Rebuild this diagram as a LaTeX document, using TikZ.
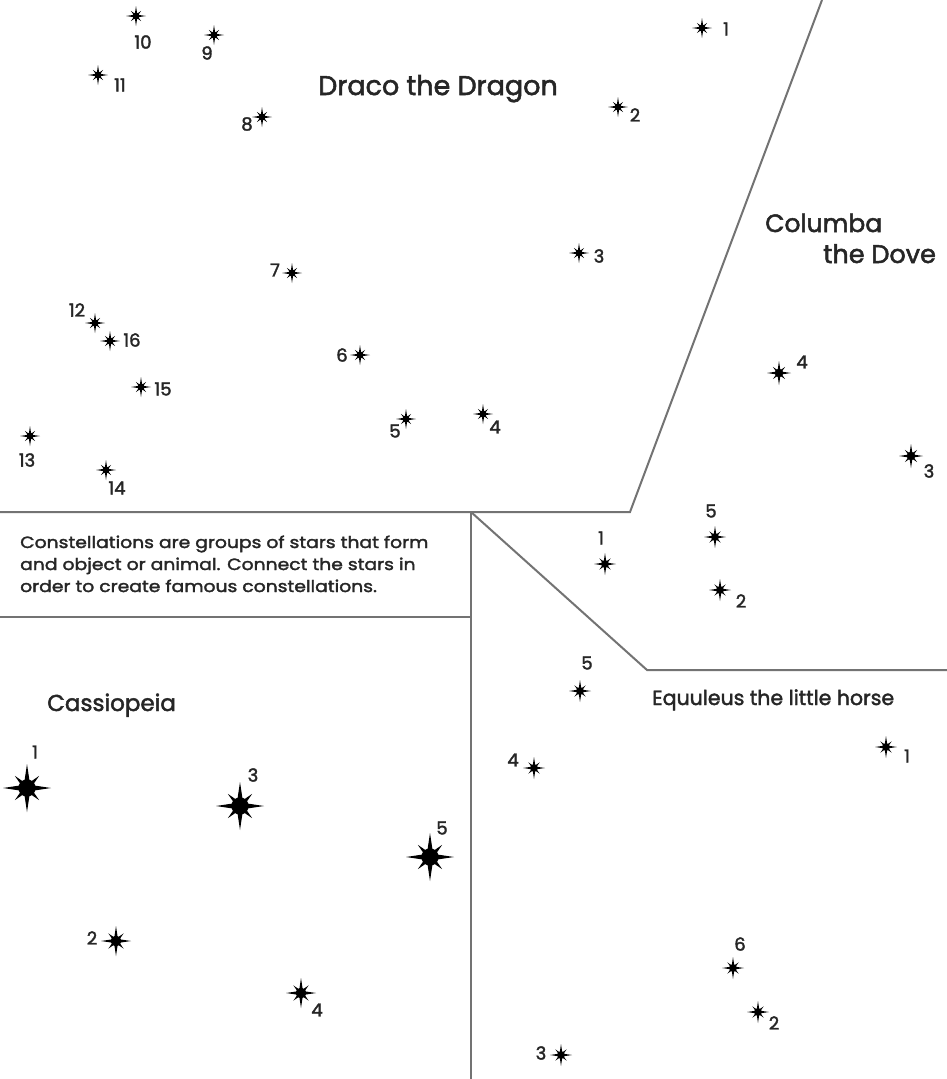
\documentclass[tikz,border=0pt]{standalone}
\usepackage{fontspec}
\setmainfont{Poppins}[FakeBold=2]
\newfontfamily\parafont{Poppins}[FakeBold=2,FakeStretch=1.15]
\begin{document}
\begin{tikzpicture}[x=1pt,y=-1pt,
  divider/.style={draw=black!55,line width=2pt,line join=miter},
  lbl/.style={text=black!85,font=\fontsize{18}{18}\selectfont,inner sep=0pt,anchor=center},
  title/.style={text=black!85,inner sep=0pt,anchor=base west},
  para/.style={text=black!85,inner sep=0pt,anchor=base west,font=\parafont\fontsize{16.3}{16.3}\selectfont},
  pics/cstar/.style={code={
    \foreach \a in {0,90,180,270}{\fill[black] (\a+90:#1*0.15) -- (\a:#1) -- (\a-90:#1*0.15) -- cycle;}
    \foreach \a in {45,135,225,315}{\fill[black] (\a+90:#1*0.13) -- (\a:#1*0.72) -- (\a-90:#1*0.13) -- cycle;}
    \fill[black] (0,0) circle (#1*0.36);
  }}]
\useasboundingbox (0,0) rectangle (947,1079);
\fill[white] (0,0) rectangle (947,1079);

% dividers
\coordinate (pA) at (0,512);
\coordinate (pB) at (471,512);
\coordinate (pC) at (630,512);
\coordinate (pD) at (822,0);
\coordinate (pE) at (647,670);
\coordinate (pF) at (947,670);
\coordinate (pG) at (471,1079);
\coordinate (pH) at (0,617);
\coordinate (pI) at (471,617);
\draw[divider] (pA) -- (pC) -- (pD);
\draw[divider] (pB) -- (pE) -- (pF);
\draw[divider] (pB) -- (pG);
\draw[divider] (pH) -- (pI);

% titles
\node[title,font=\fontsize{27}{27}\selectfont] (tDraco) at (318,95) {Draco the Dragon};
\node[title,font=\fontsize{25}{25}\selectfont] (tCol1) at (765,232) {Columba};
\node[title,font=\fontsize{25.5}{25.5}\selectfont] (tCol2) at (823,263) {the Dove};
\node[title,font=\fontsize{23}{23}\selectfont] (tCas) at (47,711) {Cassiopeia};
\node[title,font=\fontsize{20.5}{20.5}\selectfont] (tEqu) at (652,705) {Equuleus the little horse};
\node[para] (tInfo1) at (20,548) {Constellations are groups of stars that form};
\node[para] (tInfo2) at (20,570) {and object or animal. Connect the stars in};
\node[para] (tInfo3) at (20,592) {order to create famous constellations.};

% Draco
\foreach \n/\x/\y in {d1/702/28, d2/618/107, d3/579/253, d4/483/414,
  d5/406/419, d6/360/355, d7/292/273, d8/262/117, d9/214/35,
  d10/136/16, d11/98/75, d12/95/323, d16/110/341, d15/141/387,
  d13/30/436, d14/106/470}{
  \coordinate (\n) at (\x,\y);
  \pic at (\n) {cstar=10};
}
\foreach \n/\t/\x/\y in {d1/1/726/29, d2/2/635/115, d3/3/599/256, d4/4/495/427, d5/5/395/431, d6/6/342/355,
  d7/7/275/270, d8/8/247/124, d9/9/207/53, d10/10/143/42, d11/11/120/85, d12/12/77/310, d16/16/132/340,
  d15/15/163/389, d13/13/27/460, d14/14/117/488}{
  \node[lbl] (\n l) at (\x,\y) {\t};
}

% Columba
\foreach \n/\x/\y/\r in {c4/779/373/12, c3/911/456/12, c5/715/537/11, c1/605/564/11, c2/720/590/11}{
  \coordinate (\n) at (\x,\y);
  \pic at (\n) {cstar=\r};
}
\foreach \n/\t/\x/\y in {c4/4/802/362, c3/3/929/471, c5/5/711/511, c1/1/601/538, c2/2/741/601}{
  \node[lbl] (\n l) at (\x,\y) {\t};
}

% Equuleus
\foreach \n/\x/\y in {e1/886/747, e5/580/691, e4/534/768, e6/733/968, e2/758/1012, e3/561/1055}{
  \coordinate (\n) at (\x,\y);
  \pic at (\n) {cstar=11};
}
\foreach \n/\t/\x/\y in {e1/1/907/756, e5/5/587/663, e4/4/513/760, e6/6/740/944, e2/2/774/1023, e3/3/541/1053}{
  \node[lbl] (\n l) at (\x,\y) {\t};
}

% Cassiopeia
\foreach \n/\x/\y/\r in {s1/27/788/24, s3/240/806/24, s5/430/857/24, s2/116/941/15, s4/301/993/15}{
  \coordinate (\n) at (\x,\y);
  \pic at (\n) {cstar=\r};
}
\foreach \n/\t/\x/\y in {s1/1/35/752, s3/3/253/775, s5/5/442/828, s2/2/92/938, s4/4/317/1010}{
  \node[lbl] (\n l) at (\x,\y) {\t};
}
\end{tikzpicture}
\end{document}
